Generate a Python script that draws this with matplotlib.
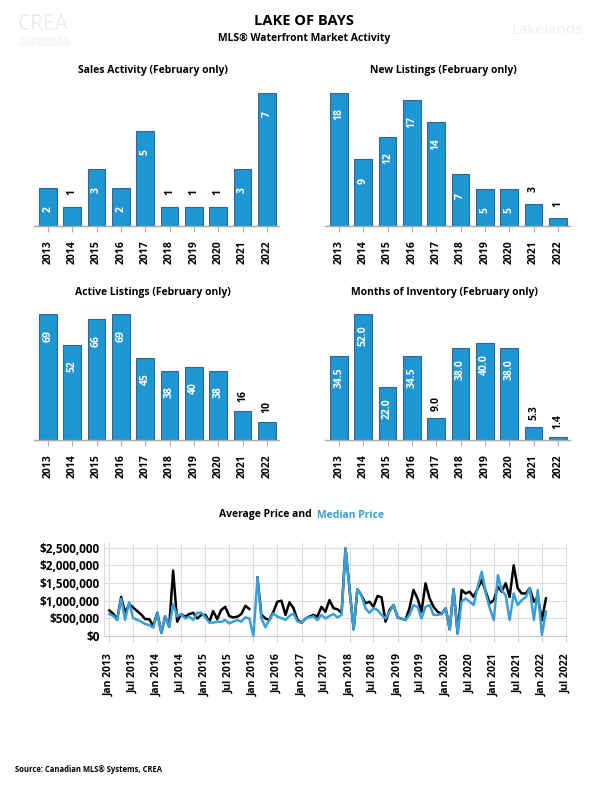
import numpy as np
import pandas as pd
import matplotlib
matplotlib.use("Agg")
import matplotlib.pyplot as plt
import matplotlib.dates as mdates

plt.rcParams['font.family'] = ['Open Sans', 'DejaVu Sans']
plt.rcParams['font.weight'] = 'bold'

# ---------------- data ----------------
years = ['2013', '2014', '2015', '2016', '2017', '2018', '2019', '2020', '2021', '2022']
sales = [2, 1, 3, 2, 5, 1, 1, 1, 3, 7]
new_listings = [18, 9, 12, 17, 14, 7, 5, 5, 3, 1]
active_listings = [69, 52, 66, 69, 45, 38, 40, 38, 16, 10]
months_inventory = [34.5, 52.0, 22.0, 34.5, 9.0, 38.0, 40.0, 38.0, 5.3, 1.4]

nan = np.nan
avg_price_k = [
    720, 620, 450, 1100, 650, 900, 800, 700, 600, 470, 470, 280,
    650, 80, 550, 250, 1850, 400, 615, 540, 615, 650, 490, 590,
    590, 400, 700, 470, 730, 820, 560, 520, 540, 615, 850, 760,
    nan, 1650, 600, 490, 445, 680, 965, 995, 590, 950, 780, 445,
    370, 490, 540, 590, 540, 820, 680, 1010, 780, 750, 650, 2480,
    1300, 180, 1320, 1150, 920, 965, 820, 1130, 1090, 400, 730, 870,
    520, 480, 445, 780, 1300, 1060, 680, 1490, 1060, 820, 680, 615,
    780, 180, 1320, 65, 1300, 1200, 1250, 1100, 1350, 1580, 1250, 920,
    1010, 1390, 1250, 1490, 1100, 2000, 1350, 1200, 1200, 1350, 965, 1100,
    440, 1060]
median_price_k = [
    620, 560, 440, 1050, 450, 950, 500, 450, 400, 330, 300, 230,
    650, 80, 550, 250, 900, 550, 615, 490, 540, 445, 650, 650,
    520, 370, 370, 400, 390, 445, 350, 400, 445, 400, 520, 490,
    0, 1650, 500, 240, 445, 630, 540, 500, 450, 560, 630, 400,
    370, 490, 520, 550, 445, 590, 490, 560, 615, 520, 590, 2480,
    1300, 180, 1320, 1150, 780, 650, 780, 730, 590, 490, 680, 870,
    520, 480, 445, 590, 870, 820, 490, 820, 870, 590, 590, 615,
    780, 180, 1320, 65, 965, 1060, 965, 870, 1400, 1820, 1200, 780,
    445, 1720, 1300, 1150, 445, 1200, 870, 1010, 1100, 1350, 445, 1300,
    20, 680]
months = pd.date_range('2013-01-01', periods=len(median_price_k), freq='MS')

# ---------------- figure ----------------
W, H = 608, 792
fig = plt.figure(figsize=(W / 100, H / 100), dpi=100)
fig.patch.set_facecolor('white')

def fx(px):
    return px / W

def fy(py):
    return 1 - py / H

# faint logos
fig.text(fx(18), fy(25), 'CREA', fontsize=15, color='#ececec', fontweight='normal', va='center', ha='left')
fig.text(fx(20), fy(42), 'THE CANADIAN REAL\nESTATE ASSOCIATION', fontsize=3.5, color='#f0f0f0', va='center', ha='left', linespacing=1.0)
fig.text(fx(583), fy(30), 'Lakelands', fontsize=11, color='#eeeeee', fontweight='normal', va='center', ha='right')

fig.text(0.5, fy(21), 'LAKE OF BAYS', fontsize=10.5, ha='center', va='center', color='black')
fig.text(0.5, fy(38), 'MLS® Waterfront Market Activity', fontsize=7.5, ha='center', va='center', color='black')

BAR_FILL = '#1E96D3'
BAR_EDGE = '#3A6683'

def bar_panel(left_px, bottom_px, top_px, values, title, title_x, title_y, fmt):
    ax = fig.add_axes([fx(left_px), fy(bottom_px), fx(245), (bottom_px - top_px) / H])
    x = np.arange(len(years))
    ax.bar(x, values, width=0.73, color=BAR_FILL, edgecolor=BAR_EDGE, linewidth=0.8, zorder=2)
    vmax = max(values)
    ax.set_ylim(0, vmax)
    ax.set_xlim(-0.57, 9.5)
    for s in ['left', 'right', 'top']:
        ax.spines[s].set_visible(False)
    ax.spines['bottom'].set_color('#a8a8a8')
    ax.spines['bottom'].set_linewidth(1.0)
    ax.set_yticks([])
    ax.set_xticks(x)
    ax.set_xticklabels(years, rotation=90, fontsize=7.5, fontweight='bold')
    ax.tick_params(axis='x', length=4, width=0.8, color='#b0b0b0', pad=6.5)
    for xi, v in zip(x, values):
        txt = fmt.format(v)
        if v / vmax > 0.25:
            ax.annotate(txt, (xi, v), xytext=(0, -15.5), textcoords='offset points',
                        rotation=90, ha='center', va='center', color='white',
                        fontsize=7.5, fontweight='bold', annotation_clip=False)
        else:
            ax.annotate(txt, (xi, v), xytext=(0, 10.5), textcoords='offset points',
                        rotation=90, ha='center', va='center', color='black',
                        fontsize=7.5, fontweight='bold', annotation_clip=False)
    fig.text(fx(title_x), fy(title_y), title, fontsize=7.5, ha='center', va='center')
    return ax

bar_panel(34, 225.7, 92.7, sales, 'Sales Activity (February only)', 153, 70.7, '{:d}')
bar_panel(325, 225.7, 92.7, new_listings, 'New Listings (February only)', 443, 70.7, '{:d}')
bar_panel(34, 440, 314, active_listings, 'Active Listings (February only)', 153, 292.3, '{:d}')
bar_panel(325, 440, 314, months_inventory, 'Months of Inventory (February only)', 444, 292.3, '{:.1f}')

# ---------------- line chart ----------------
axl = fig.add_axes([fx(104.3), fy(635.7), fx(567 - 104.3), (635.7 - 543.3) / H])
avg = np.array(avg_price_k) * 1000
med = np.array(median_price_k) * 1000
axl.plot(months, avg, color='black', lw=1.8, zorder=3, clip_on=False)
axl.plot(months, med, color='#3A9FD6', lw=1.8, zorder=4, clip_on=False)
axl.set_ylim(0, 2.625e6)
axl.set_xlim(pd.Timestamp('2012-11-24'), pd.Timestamp('2022-07-11'))
axl.set_yticks([0, 500000, 1000000, 1500000, 2000000, 2500000])
axl.set_yticklabels(['$0', '$500,000', '$1,000,000', '$1,500,000', '$2,000,000', '$2,500,000'],
                    fontsize=8.5, fontweight='bold')
ticks = pd.date_range('2013-01-01', '2022-07-01', freq='6MS')
axl.set_xticks(ticks)
axl.set_xticklabels([t.strftime('%b %Y') for t in ticks], rotation=90, fontsize=7.5, fontweight='bold')
axl.tick_params(axis='x', length=4, width=0.8, color='#d0d0d0', pad=8.5)
axl.tick_params(axis='y', length=0, pad=3.5)
axl.grid(True, color='#dcdcdc', lw=0.8, zorder=0)
for s in ['top', 'right', 'left']:
    axl.spines[s].set_visible(False)
axl.spines['bottom'].set_color('#c8c8c8')
axl.axvline(pd.Timestamp('2012-11-24'), color='#dcdcdc', lw=0.8, zorder=0)

fig.text(fx(311.7), fy(515), 'Average Price and', fontsize=7.5, ha='right', va='center', color='black')
fig.text(fx(317.3), fy(515), 'Median Price', fontsize=7.5, ha='left', va='center', color='#3A9FD6')

fig.text(fx(15), fy(770), 'Source: Canadian MLS® Systems, CREA', fontsize=5.5, ha='left', va='center', color='black')

fig.savefig('out.png', dpi=100, facecolor='white')
